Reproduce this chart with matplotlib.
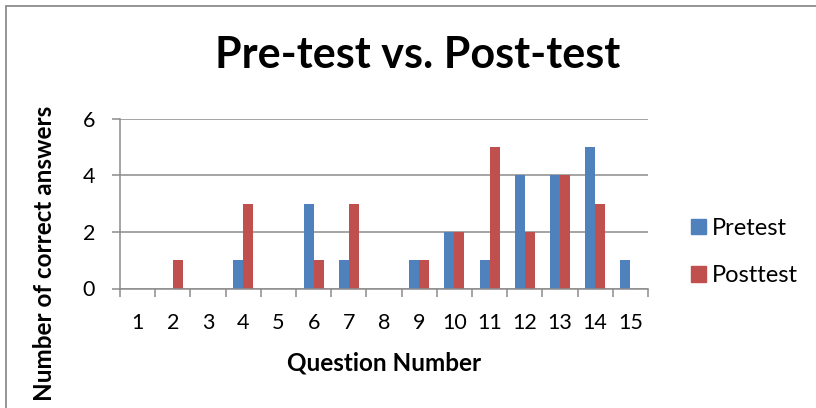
import matplotlib
matplotlib.use("Agg")
import matplotlib.pyplot as plt
import numpy as np
from matplotlib.patches import Patch, Rectangle

QUESTIONS = [str(q) for q in range(1, 16)]
PRETEST = [0, 0, 0, 1, 0, 3, 1, 0, 1, 2, 1, 4, 4, 5, 1]
POSTTEST = [0, 1, 0, 3, 0, 1, 3, 0, 1, 2, 5, 2, 4, 3, 0]
Y_TICKS = [0, 2, 4, 6]

PRE_COLOR = "#4F81BD"
POST_COLOR = "#C0504D"
GRID_COLOR = "#8C8C8C"

plt.rcParams.update(
    {
        "font.family": ["Lato", "DejaVu Sans"],
        "font.size": 15,
    }
)

W, H = 816, 408
fig = plt.figure(figsize=(W / 100, H / 100), dpi=100)

# outer chart border (Excel style), cut off at right / bottom
fig.patches.append(
    Rectangle((6 / W, -1.0), 3.0, 2.0 - 6 / H, transform=fig.transFigure,
              fill=False, edgecolor="#8C8C8C", linewidth=1.3)
)

ax = fig.add_axes([120 / W, 1 - 288.5 / H, 528 / W, 170 / H])

x = np.arange(len(QUESTIONS))
bar_w = 0.284
ax.bar(x - bar_w / 2, PRETEST, width=bar_w, color=PRE_COLOR, label="Pretest", zorder=3)
ax.bar(x + bar_w / 2, POSTTEST, width=bar_w, color=POST_COLOR, label="Posttest", zorder=3)

ax.set_xlim(-0.5, len(QUESTIONS) - 0.5)
ax.set_ylim(0, 6)
ax.set_yticks(Y_TICKS)
ax.set_xticks(x)
ax.set_xticklabels(QUESTIONS)
ax.set_xticks(np.arange(-0.5, len(QUESTIONS)), minor=True)
ax.tick_params(axis="x", which="major", length=0, pad=17.5, labelsize=15.5)
ax.tick_params(axis="x", which="minor", length=5.5, width=1.1, color=GRID_COLOR, direction="out")
ax.tick_params(axis="y", length=6, width=1.1, color=GRID_COLOR, pad=12, labelsize=15.5)

ax.grid(True, axis="y", color=GRID_COLOR, linewidth=1.1)
ax.set_axisbelow(True)
for side in ("top", "right"):
    ax.spines[side].set_visible(False)
for side in ("left", "bottom"):
    ax.spines[side].set_color(GRID_COLOR)
    ax.spines[side].set_linewidth(1.1)
ax.spines["bottom"].set_zorder(4)

ax.set_xlabel("Question Number", fontsize=17.5, fontweight="bold", va="center")
ax.xaxis.set_label_coords(0.5, (288.5 - 363) / 170)
ax.set_ylabel("Number of correct answers", fontsize=17.5, fontweight="bold", va="center")
ax.yaxis.set_label_coords((45 - 120) / 528, (288.5 - 253) / 170)

fig.text(418 / W, 1 - 68.5 / H, "Pre-test vs. Post-test", ha="center", va="baseline",
         fontsize=31, fontweight="bold")

handles = [Patch(color=PRE_COLOR), Patch(color=POST_COLOR)]
fig.legend(handles, ["Pretest", "Posttest"], loc="center left",
           bbox_to_anchor=(691 / W, 1 - 252 / H), frameon=False, fontsize=17,
           borderpad=0, borderaxespad=0,
           handlelength=0.62, handleheight=0.62, handletextpad=0.27, labelspacing=1.14)

fig.savefig("out.png", dpi=100)
